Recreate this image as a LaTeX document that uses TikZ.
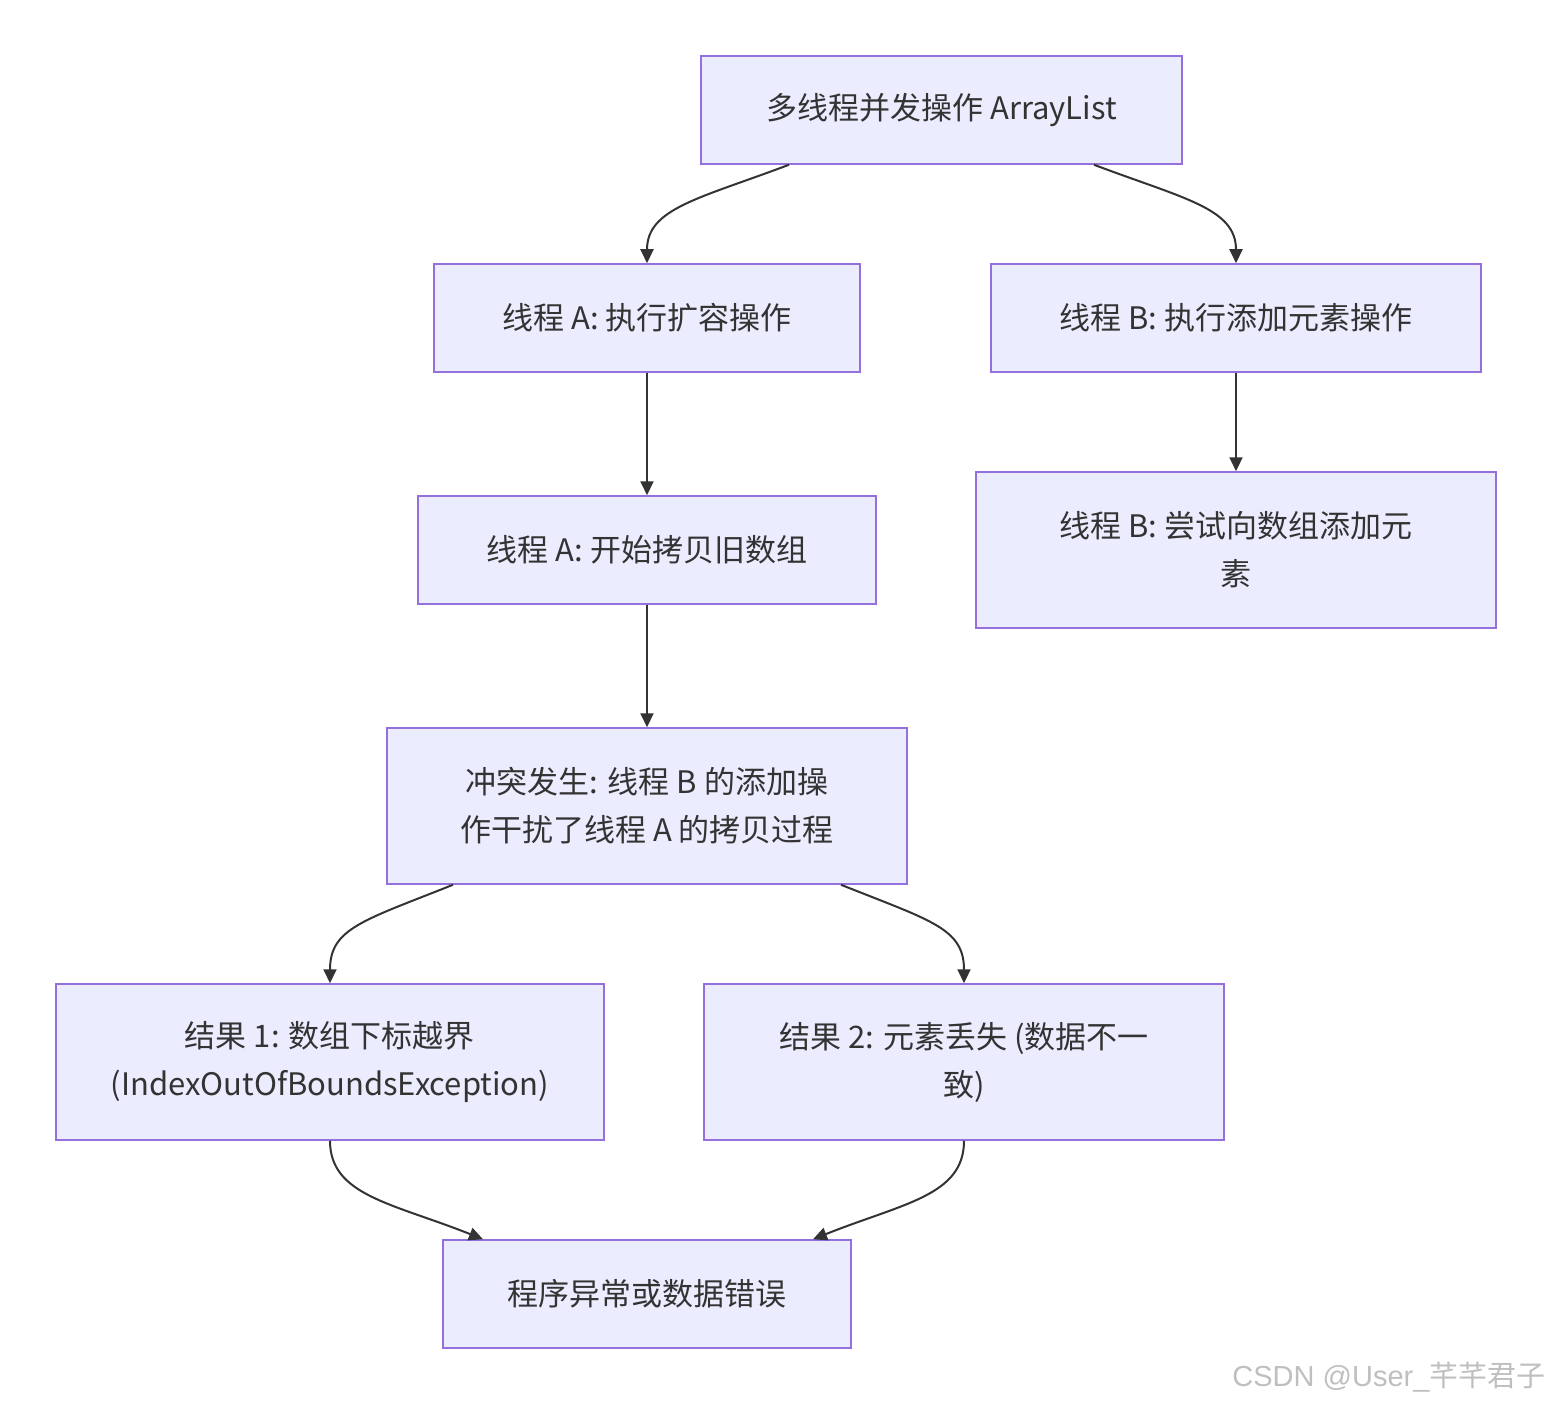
\documentclass[tikz,border=0pt]{standalone}
\usepackage{fontspec}
\setmainfont{Noto Sans CJK SC}
\usetikzlibrary{arrows.meta}
\definecolor{boxfill}{HTML}{ECECFF}
\definecolor{boxline}{HTML}{9370DB}
\definecolor{edge}{HTML}{333333}
\definecolor{txt}{HTML}{333333}
\begin{document}
\begin{tikzpicture}[x=1pt,y=-1pt,
  box/.style={draw=boxline,fill=boxfill,line width=1.5pt,align=center,
    text=txt,font=\fontsize{31}{48}\selectfont,inner sep=0pt},
  conn/.style={draw=edge,line width=2pt,-{Triangle[length=14pt,width=13pt]}}]
\useasboundingbox (0,0) rectangle (1552,1404);
\node[box,minimum width=481pt,minimum height=108pt] (top) at (941.5,110) {多线程并发操作 ArrayList};
\node[box,minimum width=426pt,minimum height=108pt] (a1) at (647,318) {线程 A: 执行扩容操作};
\node[box,minimum width=490pt,minimum height=108pt] (b1) at (1236,318) {线程 B: 执行添加元素操作};
\node[box,minimum width=458pt,minimum height=108pt] (a2) at (647,550) {线程 A: 开始拷贝旧数组};
\node[box,minimum width=520pt,minimum height=156pt] (b2) at (1236,550) {线程 B: 尝试向数组添加元\\素};
\node[box,minimum width=520pt,minimum height=156pt] (c) at (647,806) {冲突发生: 线程 B 的添加操\\作干扰了线程 A 的拷贝过程};
\node[box,minimum width=548pt,minimum height=156pt] (r1) at (330,1062) {结果 1: 数组下标越界\\(IndexOutOfBoundsException)};
\node[box,minimum width=520pt,minimum height=156pt] (r2) at (964,1062) {结果 2: 元素丢失 (数据不一\\致)};
\node[box,minimum width=408pt,minimum height=108pt] (end) at (647,1294) {程序异常或数据错误};
\node[text=black!25,font=\fontsize{29}{32}\selectfont,anchor=east] (wm) at (1549,1377) {\fontspec{Liberation Sans}CSDN @User\_\fontspec{Noto Sans CJK SC}芊芊君子};
\draw[conn] ([xshift=-152.5pt]top.south) .. controls +(-90,34) and +(0,-55) .. (a1.north);
\draw[conn] ([xshift=152.5pt]top.south) .. controls +(90,34) and +(0,-55) .. (b1.north);
\draw[conn] (a1) -- (a2);
\draw[conn] (b1) -- (b2);
\draw[conn] (a2) -- (c);
\draw[conn] ([xshift=-194pt]c.south) .. controls +(-90,36) and +(0,-55) .. (r1.north);
\draw[conn] ([xshift=194pt]c.south) .. controls +(90,36) and +(0,-55) .. (r2.north);
\draw[conn] (r1.south) .. controls +(0,55) and +(-90,-36) .. ([xshift=-164pt]end.north);
\draw[conn] (r2.south) .. controls +(0,55) and +(90,-36) .. ([xshift=166pt]end.north);
\end{tikzpicture}
\end{document}
